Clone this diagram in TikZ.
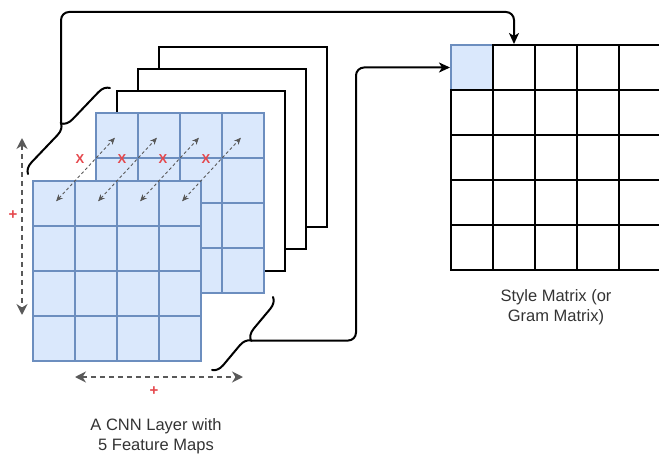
\documentclass[tikz,border=0pt]{standalone}
\usepackage{fontspec}
\setmainfont{Liberation Sans}
\usetikzlibrary{arrows.meta,calc,decorations.pathreplacing}

\definecolor{mapfill}{HTML}{DAE8FC}
\definecolor{mapline}{HTML}{6C8EBF}
\definecolor{guidegray}{HTML}{595959}
\definecolor{markred}{HTML}{E5484D}
\definecolor{captiongray}{HTML}{333333}

\tikzset{
  mapframe/.style={draw=black, fill=white, line width=2pt, inner sep=0pt,
    minimum width=168pt, minimum height=180pt},
  fcell/.style={fill=mapfill, inner sep=0pt, outer sep=0pt,
    minimum width=42pt, minimum height=45pt},
  cellrule/.style={draw=mapline, line width=2pt},
  scell/.style={draw=black, line width=2pt, inner sep=0pt,
    minimum width=42pt, minimum height=45pt},
  pairlink/.style={draw=guidegray, line width=0.9pt, dash pattern=on 3pt off 2.5pt,
    {Stealth[length=7pt,width=6pt]}-{Stealth[length=7pt,width=6pt]},
    shorten <=3pt, shorten >=3pt},
  sumaxis/.style={draw=guidegray, line width=2.3pt, dash pattern=on 5pt off 4pt,
    {Stealth[length=11pt,width=11pt]}-{Stealth[length=11pt,width=11pt]}},
  conn/.style={draw=black, line width=2pt, rounded corners=8pt,
    -{Stealth[length=11pt,width=10pt,inset=3pt]}},
  bracket/.style={draw=black, line width=2pt, line cap=round,
    decorate, decoration={brace, amplitude=11pt}},
  redmark/.style={text=markred, font=\bfseries\fontsize{13}{13}\selectfont, inner sep=0pt},
  caption/.style={text=captiongray, align=center, inner sep=0pt,
    font=\fontsize{16.5}{20.5}\selectfont},
}

\begin{document}
\begin{tikzpicture}[x=1pt,y=-1pt]
\useasboundingbox (0,0) rectangle (659,460);

% three plain feature maps stacked behind
\foreach \k in {3,2,1}
  \node[mapframe] (fm\k) at (96+21*\k+84, 113-22*\k+90) {};

% second feature map (blue grid): fills, then rules on top
\foreach \r in {1,...,4}
  \foreach \c in {1,...,4}
    \node[fcell] (b-\r-\c) at (96+42*\c-21, 113+45*\r-22.5) {};
\foreach \r in {1,...,4}
  \foreach \c in {1,...,4}
    \draw[cellrule] (b-\r-\c.north west) rectangle (b-\r-\c.south east);

% front feature map (blue grid)
\foreach \r in {1,...,4}
  \foreach \c in {1,...,4}
    \node[fcell] (f-\r-\c) at (33+42*\c-21, 181+45*\r-22.5) {};
\foreach \r in {1,...,4}
  \foreach \c in {1,...,4}
    \draw[cellrule] (f-\r-\c.north west) rectangle (f-\r-\c.south east);

% element-wise pairing between the two maps
\foreach \c in {1,...,4}
  \draw[pairlink] (f-1-\c.center) -- (b-1-\c.center);

\node[redmark] (x1) at (80,159) {X};
\node[redmark] (x2) at (122,159) {X};
\node[redmark] (x3) at (163,159) {X};
\node[redmark] (x4) at (206,159) {X};

% summation directions
\coordinate (vtop) at (22,138);
\coordinate (vbot) at (22,315);
\draw[sumaxis] (vtop) -- (vbot);
\node[redmark, font=\bfseries\fontsize{15}{15}\selectfont] (plusv) at (13,215) {+};

\coordinate (hleft) at (75,377);
\coordinate (hright) at (243,377);
\draw[sumaxis] (hleft) -- (hright);
\node[redmark, font=\bfseries\fontsize{15}{15}\selectfont] (plush) at (154,391) {+};

% style (Gram) matrix
\node[scell, fill=mapfill, draw=mapline] (m-1-1) at (451+21, 45+22.5) {};
\foreach \c in {2,...,5}
  \node[scell] (m-1-\c) at (451+42*\c-21, 45+22.5) {};
\foreach \r in {2,...,5}
  \foreach \c in {1,...,5}
    \node[scell] (m-\r-\c) at (451+42*\c-21, 45+45*\r-22.5) {};

% braces grouping the feature maps
\coordinate (bl1) at (28,174);
\coordinate (bl2) at (110,88);
\draw[bracket] (bl1) -- (bl2);
\coordinate (tipL) at ($(bl1)!0.5!(bl2)!11pt!90:(bl2)$);

\coordinate (br1) at (273,297);
\coordinate (br2) at (212,370);
\draw[bracket] (br1) -- (br2);
\coordinate (tipR) at ($(br1)!0.5!(br2)!11pt!90:(br2)$);

% connectors into the style matrix
\draw[conn] (tipL) |- ($(m-1-2.north)+(0,-32)$) -- (m-1-2.north);
\draw[conn] (tipR) -| ($(m-1-1.west)+(-94,0)$) -- (m-1-1.west);

% captions
\node[caption] (cnnlabel) at (156,436) {A CNN Layer with\\5 Feature Maps};
\node[caption] (gramlabel) at (556,307) {Style Matrix (or\\Gram Matrix)};
\end{tikzpicture}
\end{document}
